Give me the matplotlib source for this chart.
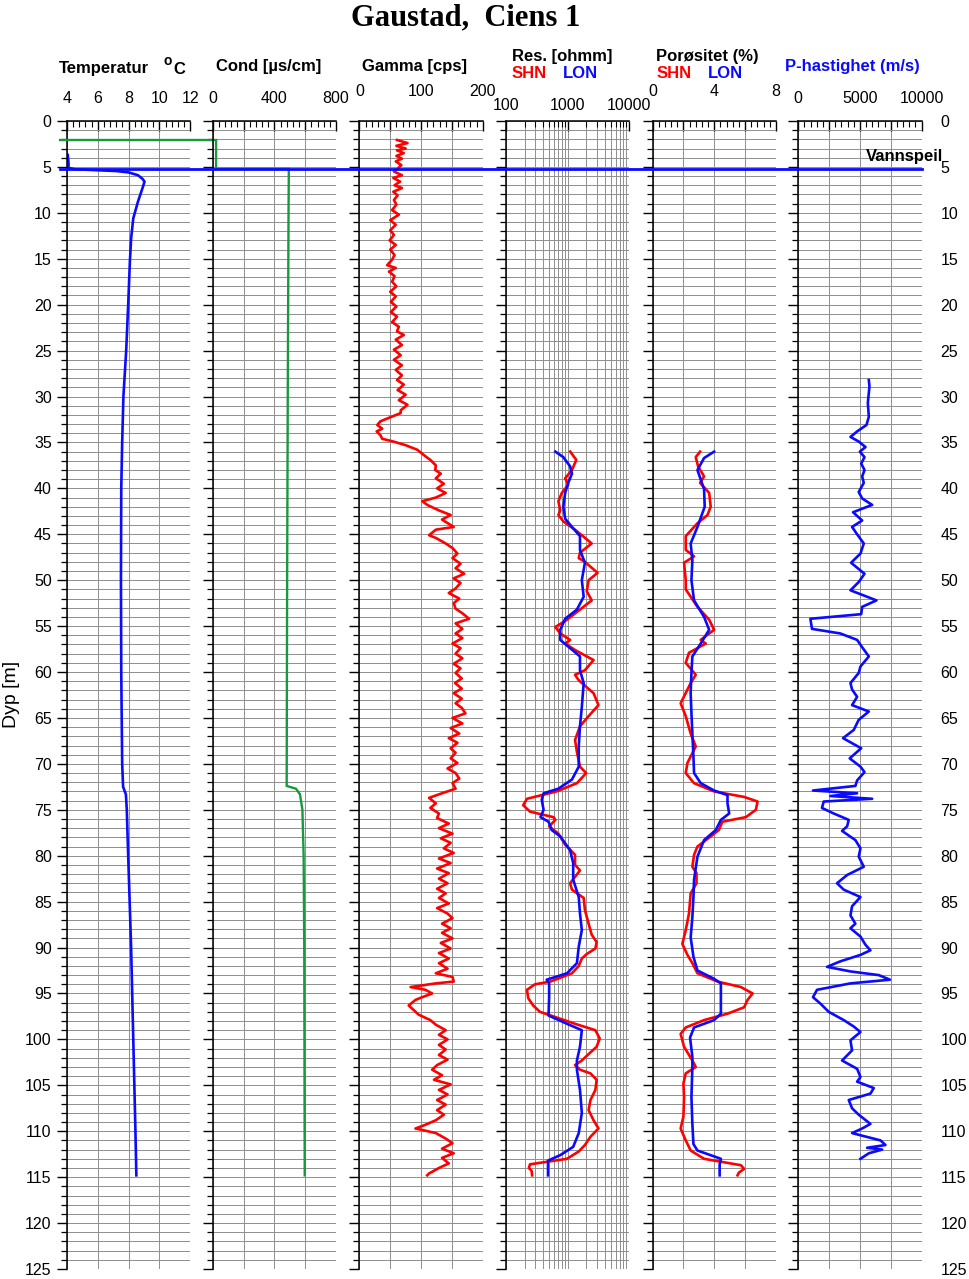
import matplotlib
matplotlib.use('Agg')
import matplotlib.pyplot as plt
from matplotlib.ticker import MultipleLocator, FixedLocator, FixedFormatter, LogLocator, NullFormatter

plt.rcParams['font.family'] = ['Liberation Sans', 'DejaVu Sans']

# ---------------- data ----------------
water_level = 5.2

temp_depth = [3.7, 4.6, 5.1, 5.25, 5.35, 5.45, 5.6, 5.9, 6.3, 6.6, 7.3, 8.8, 10.6, 12.8, 15.3, 20, 25, 30,
              35, 40, 50, 60, 70, 72.5, 73.0, 73.3, 75, 80, 90, 100, 110, 114.8]
temp_val = [4.05, 4.1, 4.1, 4.5, 5.8, 7.2, 8.0, 8.6, 8.9, 9.03, 8.9, 8.6, 8.3, 8.16, 8.08, 7.97, 7.84, 7.66,
            7.58, 7.52, 7.5, 7.52, 7.58, 7.64, 7.75, 7.82, 7.88, 7.97, 8.16, 8.3, 8.44, 8.5]

cond_depth = [2.07, 2.07, 5.2, 5.2, 10, 30, 50, 72.4, 72.7, 73.3, 75, 80, 90, 114.8]
cond_val = [-990, 22, 22, 494, 492, 487, 483, 480, 540, 566, 582, 590, 594, 597]

gamma_depth = [2.07, 2.4, 2.7, 3.0, 3.2, 3.5, 3.8, 4.1, 4.4, 4.8, 5.2, 5.5, 5.9, 6.2, 6.6, 7.0, 7.3, 7.7,
               8.1, 8.6, 9.1, 9.7, 10.2, 10.8, 11.3, 11.9, 12.4, 13.0, 13.5, 14.0, 14.6, 15.1, 15.7, 16.0,
               16.4, 16.9, 17.5, 18.0, 18.6, 19.1, 19.7, 20.2, 20.8, 21.3, 21.9, 22.4, 22.9, 23.3, 23.8,
               24.4, 24.9, 25.5, 26.0, 26.6, 27.1, 27.7, 28.2, 28.7, 29.3, 29.8, 30.4, 30.9, 31.5, 31.8,
               32.4, 32.7, 33.1, 33.5, 33.8, 34.2, 34.6, 34.9, 35.3, 35.8, 36.4, 36.9, 37.5, 38.0, 38.4,
               38.9, 39.5, 40.0, 40.5, 41.0, 41.4, 41.8, 42.4, 42.9, 43.4, 44.2, 44.5, 45.1, 45.4, 46.0,
               46.5, 47.1, 47.6, 48.2, 48.7, 49.3, 49.8, 50.3, 50.9, 51.4, 52.0, 52.5, 53.1, 53.6, 54.2,
               54.7, 55.3, 55.8, 56.3, 56.9, 57.4, 58.0, 58.5, 59.1, 59.6, 60.1, 60.7, 61.2, 61.8, 62.3,
               62.9, 63.4, 63.9, 64.5, 65.0, 65.6, 66.1, 66.7, 67.2, 67.7, 68.3, 68.8, 69.4, 69.9, 70.5,
               71.0, 71.6, 72.1, 72.7, 73.2, 73.7, 74.3, 74.8, 75.4, 75.9, 76.5, 77.0, 77.6, 78.1, 78.6,
               79.2, 79.7, 80.3, 80.8, 81.4, 81.9, 82.5, 83.0, 83.6, 84.1, 84.6, 85.2, 85.7, 86.3, 86.8,
               87.4, 87.9, 88.4, 89.0, 89.5, 90.1, 90.6, 91.2, 91.7, 92.3, 92.8, 93.2, 93.7, 93.9, 94.3,
               94.6, 95.0, 95.4, 95.7, 96.3, 96.8, 97.3, 97.9, 98.4, 99.0, 99.5, 100.0, 100.6, 101.1,
               101.7, 102.2, 102.8, 103.3, 103.9, 104.4, 104.9, 105.5, 106.0, 106.6, 107.1, 107.7, 108.2,
               108.8, 109.3, 109.7, 110.2, 110.8, 111.3, 111.9, 112.4, 112.9, 113.5, 114.0, 114.6, 114.8]
gamma_val = [61, 78, 60, 75, 61, 72, 60, 69, 59, 68, 62, 56, 69, 55, 66, 57, 69, 55,
             62, 56, 60, 53, 64, 50, 59, 50, 56, 49, 59, 50, 57, 53, 45, 59,
             48, 57, 53, 60, 50, 59, 51, 60, 51, 61, 53, 64, 61, 72, 59,
             69, 56, 67, 56, 69, 59, 69, 61, 72, 62, 75, 64, 78, 67, 67,
             45, 34, 29, 37, 28, 34, 37, 55, 75, 94, 105, 115, 124, 123, 132,
             124, 137, 126, 140, 124, 102, 110, 129, 148, 134, 153, 124, 113, 124, 140,
             151, 159, 151, 164, 156, 170, 153, 164, 156, 145, 162, 153, 156, 167, 178,
             156, 167, 156, 167, 151, 164, 156, 167, 153, 164, 156, 166, 155, 166, 153,
             166, 156, 166, 172, 151, 167, 148, 162, 145, 159, 148, 156, 148, 159, 143,
             156, 162, 151, 156, 134, 113, 124, 115, 129, 126, 145, 129, 151, 132, 148,
             137, 153, 129, 148, 126, 145, 129, 143, 126, 140, 129, 145, 126, 143, 151,
             134, 148, 134, 151, 132, 148, 129, 145, 129, 143, 124, 151, 153, 124, 83,
             107, 118, 102, 91, 80, 88, 96, 115, 124, 140, 129, 143, 129, 140,
             129, 143, 126, 118, 134, 121, 148, 129, 143, 126, 140, 126, 137,
             124, 107, 91, 124, 140, 151, 134, 153, 134, 145, 129, 113, 110]

res_shn_depth = [36.0, 36.9, 38.0, 38.9, 39.6, 40.5, 41.4, 42.4, 42.9, 43.6, 44.5, 46.0, 47.0, 47.6, 48.0,
                 49.2, 50.0, 51.2, 52.2, 53.2, 54.3, 55.1, 55.8, 56.5, 56.9, 57.6, 58.7, 59.8, 60.3, 60.9,
                 62.3, 63.6, 64.8, 65.9, 67.4, 68.7, 70.3, 71.0, 72.1, 73.0, 73.8, 74.5, 75.2, 75.8, 76.1,
                 76.8, 77.6, 78.8, 79.9, 81.0, 81.6, 82.3, 83.0, 83.7, 84.6, 85.9, 87.4, 88.6, 89.4, 90.1,
                 90.7, 91.2, 92.0, 92.8, 93.7, 94.0, 94.6, 95.5, 96.3, 97.0, 97.5, 98.3, 99.0, 99.9, 100.8,
                 101.6, 102.3, 102.8, 103.3, 103.7, 104.4, 105.5, 106.6, 107.7, 108.8, 109.7, 110.6, 111.5,
                 112.2, 113.0, 113.6, 114.0, 114.3, 114.8]
res_shn_val = [1100, 1380, 1175, 912, 1023, 804, 708, 759, 708, 851, 1318, 2455, 1585, 1514, 1905,
               3055, 2188, 2042, 2455, 1585, 977, 631, 759, 1096, 912, 1318, 2630, 1905, 1318, 1514,
               2630, 3162, 2188, 1585, 1318, 1413, 1585, 1995, 1413, 661, 219, 190, 245, 589, 631,
               501, 708, 912, 1318, 1318, 1585, 1318, 1096, 1175, 1820, 1905, 2188, 2455, 2951, 2818,
               2042, 1698, 1514, 1175, 525, 295, 219, 229, 275, 355, 589, 1318, 2818, 3311, 2951,
               2188, 1698, 1318, 1585, 2344, 2951, 2818, 2344, 2188, 2630, 3162, 2344, 1905,
               1514, 977, 245, 235, 260, 265]

res_lon_depth = [36.0, 36.6, 37.6, 38.4, 39.4, 40.5, 42.0, 43.3, 44.2, 45.2, 46.7, 48.1, 50.0, 51.8, 53.2,
                 54.2, 55.4, 56.5, 57.4, 58.3, 59.8, 61.2, 63.8, 65.9, 68.1, 70.3, 71.7, 72.7, 73.2, 73.9,
                 75.0, 75.8, 76.3, 77.2, 77.9, 79.4, 80.8, 82.6, 84.5, 86.3, 88.1, 89.9, 91.7, 92.8, 93.5,
                 93.9, 95.4, 97.4, 98.3, 99.0, 100.8, 102.3, 103.3, 105.5, 108.0, 110.2, 111.7, 112.6,
                 113.2, 114.8]
res_lon_val = [631, 851, 1096, 1175, 1023, 912, 851, 912, 1175, 1585, 1585, 1905, 1698, 1820, 1413,
               912, 759, 759, 1096, 1585, 1585, 1820, 1698, 1585, 1514, 1514, 1175, 708, 407, 380,
               407, 363, 490, 550, 759, 1096, 1230, 1230, 1514, 1585, 1698, 1514, 1413, 977, 457,
               501, 501, 490, 977, 1698, 1585, 1413, 1413, 1585, 1698, 1514, 1230, 759,
               480, 480]

por_shn_depth = [36.0, 36.6, 37.6, 38.7, 39.4, 40.5, 42.0, 42.9, 43.8, 45.2, 46.7, 47.4, 48.1, 50.0, 51.0,
                 52.9, 54.3, 55.4, 56.5, 56.9, 57.9, 59.0, 60.3, 61.2, 63.4, 64.8, 66.7, 68.1, 69.9, 71.0,
                 72.1, 73.0, 73.6, 74.1, 75.0, 75.8, 76.3, 77.2, 77.9, 79.0, 79.9, 81.2, 81.9, 83.0, 84.1,
                 86.3, 88.1, 89.6, 90.8, 91.7, 92.8, 93.7, 94.3, 95.0, 95.7, 96.5, 97.2, 97.9, 98.7, 99.4,
                 100.8, 102.3, 103.0, 103.7, 104.8, 106.3, 108.4, 109.7, 111.0, 112.1, 113.0, 113.7, 114.1,
                 114.5, 114.8]
por_shn_val = [3.08, 2.80, 2.95, 3.34, 3.08, 3.67, 3.77, 3.56, 2.91, 2.15, 2.15, 2.69, 2.04, 2.15, 2.15,
               2.91, 3.67, 3.99, 3.12, 3.45, 2.36, 2.15, 2.80, 2.47, 1.82, 2.15, 2.47, 2.80, 2.26, 2.15,
               2.69, 3.99, 5.94, 6.81, 6.70, 6.05, 4.53, 4.30, 3.77, 2.91, 2.69, 2.58, 2.85, 2.85, 2.47,
               2.36, 2.15, 1.93, 2.26, 2.58, 2.91, 4.21, 5.73, 6.49, 6.16, 5.94, 4.86, 3.34, 2.15, 1.82,
               2.04, 2.58, 2.80, 2.15, 2.00, 2.04, 2.00, 1.82, 2.15, 2.47, 3.34, 5.73, 5.94,
               5.60, 5.51]

por_lon_depth = [36.0, 36.7, 38.0, 40.1, 42.0, 44.2, 46.0, 47.8, 50.0, 52.2, 54.0, 55.4, 56.9, 58.3, 60.1,
                 62.3, 64.5, 66.7, 69.2, 71.0, 72.1, 72.9, 73.4, 74.3, 75.4, 76.1, 77.2, 78.3, 80.1, 82.6,
                 84.5, 86.7, 88.9, 91.0, 92.5, 93.4, 93.9, 95.4, 97.2, 97.9, 98.7, 99.8, 101.9, 103.0,
                 106.3, 109.2, 111.4, 112.1, 113.0, 113.6, 114.8]
por_lon_val = [3.99, 3.34, 2.91, 3.34, 3.38, 2.91, 2.47, 2.58, 2.52, 2.69, 3.34, 3.67, 3.12, 2.58, 2.52,
               2.47, 2.52, 2.58, 2.65, 2.69, 3.12, 3.99, 4.86, 4.86, 4.97, 4.43, 4.10, 3.34, 2.91, 2.69,
               2.65, 2.58, 2.47, 2.65, 2.91, 3.99, 4.43, 4.43, 4.43, 3.99, 2.69, 2.43, 2.58, 2.58,
               2.52, 2.58, 2.65, 2.91, 4.43, 4.35, 4.35]

vp_depth = [28.2, 28.9, 30.7, 32.2, 33.1, 33.8, 34.4, 34.9, 35.5, 36.0, 36.6, 37.3, 38.0, 38.7, 39.4, 40.4,
            41.1, 41.8, 42.6, 43.5, 44.2, 45.0, 46.0, 47.1, 48.1, 49.3, 50.2, 51.1, 52.2, 52.9, 53.7, 54.2,
            55.3, 55.8, 56.5, 57.3, 58.3, 59.4, 60.1, 61.2, 61.9, 62.7, 63.6, 64.3, 65.2, 66.3, 67.2, 68.3,
            69.4, 70.3, 70.9, 71.8, 72.4, 72.9, 73.2, 73.5, 73.8, 74.1, 74.8, 75.4, 76.1, 76.8, 77.3, 78.3,
            79.2, 80.1, 81.2, 82.1, 83.0, 83.7, 84.5, 85.5, 86.5, 87.4, 87.9, 88.8, 89.7, 90.3, 90.8, 91.5,
            92.1, 92.6, 93.0, 93.5, 93.9, 94.6, 95.4, 96.1, 97.0, 97.9, 98.6, 99.2, 100.1, 101.2, 102.3,
            103.2, 104.1, 104.6, 105.3, 105.9, 106.6, 107.5, 108.2, 109.2, 109.7, 110.2, 111.0, 111.5,
            111.8, 112.0, 112.4, 113.0]
vp_val = [5720, 5770, 5640, 5720, 5530, 4770, 4230, 4900, 5450, 4990, 5370, 5100, 5370, 5180, 5310, 4900,
          5180, 5990, 4440, 5180, 4360, 4770, 5310, 5040, 4280, 5370, 4900, 4230, 6340, 5180, 5100, 980,
          1110, 3410, 4770, 5180, 5720, 5040, 4900, 4230, 4360, 4770, 4360, 5720, 4900, 4500, 3630, 5100,
          4170, 5040, 5370, 4770, 4630, 1190, 4770, 2600, 5990, 2060, 1920, 2870, 4090, 3960, 3550, 4630,
          5040, 4900, 5310, 3960, 3140, 3690, 5040, 4360, 4230, 4630, 4230, 5040, 5450, 5850, 5040, 3410,
          2330, 4230, 6530, 7430, 4230, 1520, 1190, 1790, 2470, 3690, 4500, 5040, 4230, 4360, 3550,
          4770, 5040, 4770, 6120, 5850, 4090, 4360, 4900, 5850, 5180, 4360, 6670, 7070,
          5580, 6800, 5720, 5040]

depth_ticks = list(range(0, 130, 5))

# ---------------- layout ----------------
W, H = 969, 1279
fig = plt.figure(figsize=(W / 100, H / 100), dpi=100)


def fx(px):
    return px / W


def fy(py):
    return 1 - py / H


TOP, BOT = 121, 1269
lefts = [67, 212.7, 359.4, 506, 652.6, 798.3]
PW = 123.3
axes = [fig.add_axes([fx(l), fy(BOT), PW / W, (BOT - TOP) / H]) for l in lefts]

RED = '#ff0000'
BLUE = '#0a0aff'
GREEN = '#169a3c'
GRID = '#8e8e8e'
LAB = 11.5


def style(ax, xlim, majors, labels, minor_step, pad, log=False):
    ax.set_ylim(125, 0)
    if log:
        ax.set_xscale('log')
    ax.set_xlim(*xlim)
    ax.yaxis.set_major_locator(FixedLocator(depth_ticks))
    ax.yaxis.set_minor_locator(MultipleLocator(1))
    ax.tick_params(axis='y', which='major', direction='out', length=7, width=1.0,
                   left=True, right=False, labelleft=False, labelsize=LAB, pad=4)
    ax.tick_params(axis='y', which='minor', direction='out', length=4.5, width=0.9,
                   left=True, right=False)
    ax.xaxis.tick_top()
    ax.xaxis.set_major_locator(FixedLocator(majors))
    ax.xaxis.set_major_formatter(FixedFormatter(labels))
    if log:
        ax.xaxis.set_minor_locator(LogLocator(base=10, subs=range(2, 10)))
    else:
        ax.xaxis.set_minor_locator(MultipleLocator(minor_step))
    ax.xaxis.set_minor_formatter(NullFormatter())
    ax.tick_params(axis='x', which='major', direction='in', length=7, width=1.0,
                   top=True, bottom=False, labeltop=True, labelbottom=False, labelsize=LAB, pad=pad)
    ax.tick_params(axis='x', which='minor', direction='in', length=4, width=0.8,
                   top=True, bottom=False)
    ax.grid(True, which='major', axis='both', color=GRID, lw=0.7)
    ax.grid(True, which='minor', axis='y', color=GRID, lw=0.7)
    if log:
        ax.grid(True, which='minor', axis='x', color=GRID, lw=0.7)
    ax.set_axisbelow(True)
    for s in ['right', 'bottom']:
        ax.spines[s].set_visible(False)
    for s in ['top', 'left']:
        ax.spines[s].set_linewidth(1.1)
        ax.spines[s].set_zorder(5)


ax1, ax2, ax3, ax4, ax5, ax6 = axes
style(ax1, (4, 12), [4, 6, 8, 10, 12], ['4', '6', '8', '10', '12'], 0.4, 11)
style(ax2, (0, 800), [0, 200, 400, 600, 800], ['0', '', '400', '', '800'], 40, 11)
style(ax3, (0, 200), [0, 50, 100, 150, 200], ['0', '', '100', '', '200'], 10, 16)
style(ax4, (100, 10000), [100, 1000, 10000], ['100', '1000', '10000'], None, 6, log=True)
style(ax5, (0, 8), [0, 2, 4, 6, 8], ['0', '', '4', '', '8'], 0.4, 16)
style(ax6, (0, 10000), [0, 2500, 5000, 7500, 10000], ['0', '', '5000', '', '10000'], 500, 11)

ax1.tick_params(axis='y', which='major', labelleft=True)

LW = 1.9
ax1.plot(temp_val, temp_depth, color=BLUE, lw=LW, solid_joinstyle='round')
ax2.plot(cond_val, cond_depth, color=GREEN, lw=LW - 0.2, clip_on=False, solid_joinstyle='miter')
ax3.plot(gamma_val, gamma_depth, color=RED, lw=LW)
ax4.plot(res_shn_val, res_shn_depth, color=RED, lw=LW)
ax4.plot(res_lon_val, res_lon_depth, color=BLUE, lw=LW)
ax5.plot(por_shn_val, por_shn_depth, color=RED, lw=LW)
ax5.plot(por_lon_val, por_lon_depth, color=BLUE, lw=LW)
ax6.plot(vp_val, vp_depth, color=BLUE, lw=LW)

# water level line across all panels (drawn in the last panel so it is on top)
ax6.axhline(water_level, xmin=(60 - lefts[5]) / PW, xmax=1.0, color=BLUE, lw=2.0,
            clip_on=False, zorder=20)

# right-side depth labels
axr = ax6.twinx()
axr.set_ylim(125, 0)
axr.yaxis.set_major_locator(FixedLocator(depth_ticks))
axr.tick_params(axis='y', which='both', length=0, labelsize=LAB, pad=13.5)
for s in axr.spines.values():
    s.set_visible(False)

# ---------------- texts ----------------
fig.text(fx(466), fy(18), 'Gaustad,  Ciens 1', family=['Liberation Serif', 'DejaVu Serif'],
         weight='bold', size=22, ha='center', va='center')
fig.text(fx(12), fy(694), 'Dyp [m]', rotation=90, size=14, ha='center', va='center')

HS = 12
fig.text(fx(59), fy(73.5), 'Temperatur', weight='bold', size=HS, ha='left', va='baseline')
fig.text(fx(163), fy(65), 'o', weight='bold', size=10, ha='left', va='baseline')
fig.text(fx(173), fy(73.5), 'C', weight='bold', size=HS, ha='left', va='baseline')
fig.text(fx(216.5), fy(71), 'Cond [\u00b5s/cm]', weight='bold', size=HS, ha='left', va='baseline')
fig.text(fx(362.5), fy(71), 'Gamma [cps]', weight='bold', size=HS, ha='left', va='baseline')
fig.text(fx(511.5), fy(61.5), 'Res. [ohmm]', weight='bold', size=HS, ha='left', va='baseline')
fig.text(fx(511.5), fy(78.5), 'SHN', weight='bold', size=HS, ha='left', va='baseline', color=RED)
fig.text(fx(562.5), fy(78.5), 'LON', weight='bold', size=HS, ha='left', va='baseline', color=BLUE)
fig.text(fx(656.5), fy(61), 'Por\u00f8sitet (%)', weight='bold', size=HS, ha='left', va='baseline')
fig.text(fx(656.5), fy(78.5), 'SHN', weight='bold', size=HS, ha='left', va='baseline', color=RED)
fig.text(fx(707.5), fy(78.5), 'LON', weight='bold', size=HS, ha='left', va='baseline', color=BLUE)
fig.text(fx(785), fy(71), 'P-hastighet (m/s)', weight='bold', size=HS, ha='left', va='baseline',
         color=BLUE)
fig.text(fx(866), fy(161.5), 'Vannspeil', weight='bold', size=HS, ha='left', va='baseline', zorder=30)

fig.savefig('out.png', dpi=100)
